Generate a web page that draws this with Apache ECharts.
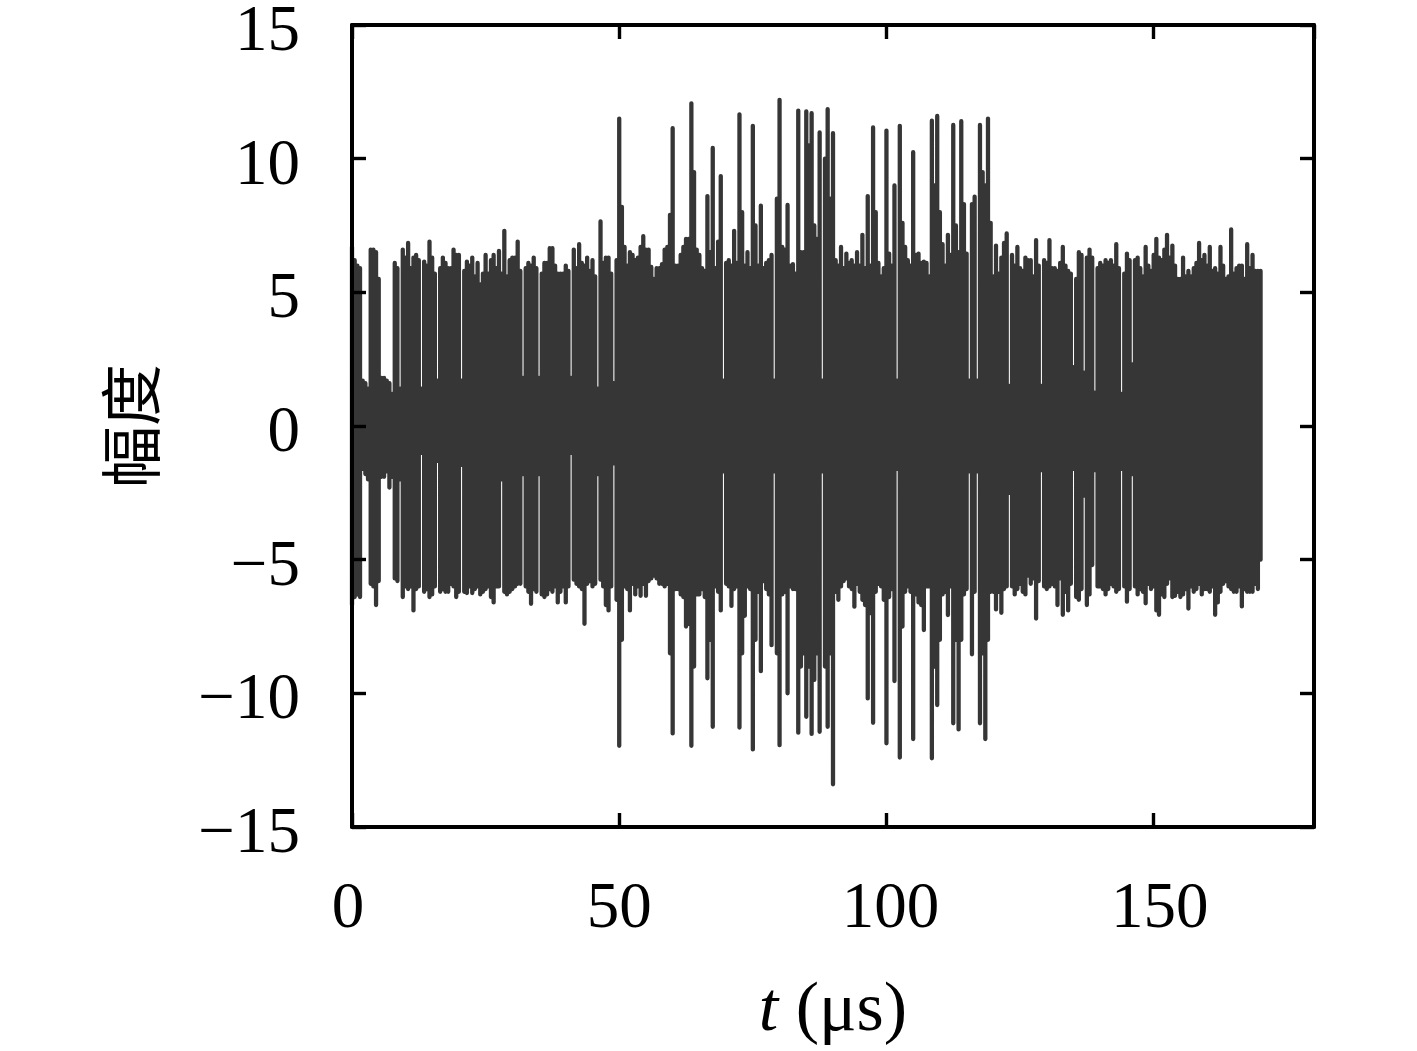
<!DOCTYPE html>
<html><head><meta charset="utf-8">
<style>html,body{margin:0;padding:0;background:#fff}#c{width:1417px;height:1051px}</style>
<script src="https://cdn.jsdelivr.net/npm/echarts@6/dist/echarts.min.js"></script>
</head><body><div id="c"></div>
<script>
// column spacing of the trace, in microseconds
const timeStep = 0.5;
// highest value reached by the trace in each column (rows of 10 us)
const upperValues = [
6.7,6.2,6.0,5.9,1.7,1.6,1.4,6.6,6.6,6.5,5.5,1.8,1.8,1.7,1.6,1.2,6.1,5.9,1.4,6.6,
6.3,6.85,5.9,6.3,6.4,6.2,1.4,6.15,6.0,6.9,6.3,5.7,1.7,5.9,6.3,6.1,5.9,5.9,6.6,6.4,
6.4,1.7,5.8,6.15,6.0,6.3,5.6,6.1,5.3,5.7,6.4,5.7,6.2,6.4,5.9,6.55,5.7,7.3,5.6,6.2,
6.3,6.3,6.9,5.8,1.8,5.9,6.1,6.0,6.3,5.9,1.8,5.7,6.1,6.1,6.65,6.65,6.0,5.7,5.7,5.7,
6.0,5.8,1.8,6.6,5.9,6.8,6.1,6.0,6.3,5.8,6.2,5.6,1.4,7.65,6.1,6.3,6.3,5.7,1.6,6.2,
11.5,8.2,6.7,6.0,6.5,6.4,6.2,6.3,6.7,7.1,6.6,6.6,5.95,5.5,5.9,5.9,6.05,6.6,6.7,7.9,
11.14,6.0,6.0,6.4,6.7,7.0,7.0,12.07,9.5,6.6,6.4,5.9,5.8,8.6,6.5,10.4,5.9,6.9,9.35,1.7,
6.1,6.2,6.0,7.3,6.1,11.66,8.0,6.0,6.5,5.9,11.23,7.5,6.0,8.24,5.9,6.1,6.2,6.4,1.7,8.5,
12.2,6.7,6.6,8.27,6.0,6.05,5.7,11.8,6.5,6.5,11.77,10.5,11.7,7.5,7.0,10.98,1.7,10.0,11.85,8.5,
10.95,6.2,6.0,6.7,5.9,6.45,6.1,6.2,6.0,6.5,6.0,7.15,5.9,8.6,6.0,11.17,8.0,6.1,5.6,5.9,
11.05,6.45,6.0,9.0,1.7,11.23,7.6,6.7,6.2,6.0,10.24,6.4,6.45,6.1,6.15,6.1,5.6,11.42,9.0,11.6,
8.0,6.8,6.0,7.15,6.4,11.26,7.5,6.5,11.4,8.3,6.45,1.7,8.3,8.58,1.7,11.26,9.5,9.0,11.5,7.6,
5.6,6.75,5.7,6.3,6.85,7.2,1.5,6.4,6.0,6.7,5.9,5.8,6.3,6.2,6.2,5.6,6.95,6.0,1.5,6.2,
6.1,6.95,5.9,5.9,5.8,6.1,6.7,6.0,5.8,5.7,2.2,5.5,6.5,6.4,2.0,6.3,6.6,6.3,1.25,5.9,
6.1,6.0,6.2,6.1,6.2,6.0,6.8,5.9,1.2,5.7,6.45,6.2,2.3,6.2,6.3,5.9,5.6,6.7,6.0,5.8,
6.4,7.0,6.3,6.2,6.6,7.15,6.3,6.75,6.0,5.5,5.5,6.3,5.6,5.8,5.6,5.9,6.1,6.85,6.2,6.4,
6.0,6.7,5.8,5.9,5.7,6.7,6.0,5.5,5.6,7.35,5.7,5.9,6.0,6.0,5.5,6.8,5.9,6.4,5.8,5.8,
5.8];
// lowest value reached by the trace in each column (rows of 10 us)
const lowerValues = [
-6.7,-6.4,-6.3,-6.4,-1.6,-1.8,-2.0,-5.9,-6.0,-6.7,-5.8,-1.9,-1.9,-1.7,-2.3,-1.9,-5.7,-5.8,-2.0,-6.4,
-6.0,-6.1,-6.0,-6.9,-6.1,-6.0,-1.0,-6.2,-6.1,-6.4,-6.3,-6.0,-1.3,-6.2,-6.1,-6.2,-6.2,-5.9,-6.0,-6.4,
-6.2,-1.45,-6.2,-6.25,-6.0,-6.25,-6.1,-6.0,-6.3,-6.2,-6.1,-6.0,-6.4,-6.6,-6.0,-6.0,-2.0,-6.2,-6.3,-6.2,
-6.1,-6.0,-5.9,-5.9,-1.8,-6.0,-6.2,-6.65,-6.1,-6.2,-1.8,-6.3,-6.4,-6.3,-6.1,-6.2,-6.0,-6.6,-6.2,-6.0,
-6.6,-6.0,-1.0,-5.75,-5.9,-6.0,-6.1,-7.4,-5.9,-5.8,-6.0,-5.9,-1.8,-5.75,-6.0,-6.7,-6.9,-6.0,-1.4,-6.5,
-11.96,-8.0,-6.0,-6.1,-6.9,-5.9,-6.3,-6.0,-6.35,-5.9,-6.35,-5.8,-5.7,-5.6,-5.7,-5.9,-5.9,-6.0,-5.9,-8.5,
-11.5,-6.1,-6.1,-6.3,-6.4,-7.5,-7.4,-11.96,-9.0,-6.3,-6.3,-6.1,-6.4,-9.44,-8.0,-11.25,-6.0,-6.2,-6.9,-1.7,
-5.9,-6.0,-6.73,-6.1,-6.0,-11.28,-8.5,-7.1,-6.0,-6.1,-12.1,-8.0,-6.2,-9.17,-5.8,-6.1,-6.3,-8.2,-1.7,-8.5,
-11.94,-6.3,-6.2,-10.0,-6.0,-6.1,-6.1,-11.47,-9.0,-8.5,-10.88,-9.0,-11.52,-9.5,-8.5,-11.44,-1.7,-9.0,-11.25,-8.5,
-13.4,-6.2,-6.5,-6.0,-5.8,-5.7,-6.0,-6.1,-6.76,-5.9,-6.2,-6.5,-6.7,-10.19,-7.0,-11.1,-6.2,-5.9,-6.0,-6.5,
-11.87,-6.4,-6.1,-9.54,-1.6,-12.4,-7.5,-6.2,-6.0,-6.2,-11.71,-6.3,-6.6,-6.7,-7.63,-6.0,-6.0,-12.43,-9.0,-10.44,
-8.0,-6.3,-6.2,-7.07,-6.0,-11.12,-8.0,-11.35,-8.0,-6.3,-6.1,-1.7,-8.54,-6.2,-1.7,-11.12,-8.5,-11.71,-8.0,-6.2,
-6.2,-6.86,-6.2,-6.99,-6.1,-6.0,-2.5,-6.0,-6.3,-6.1,-5.9,-6.2,-6.3,-5.6,-5.9,-5.7,-7.2,-5.8,-1.65,-6.0,
-6.1,-6.0,-5.9,-6.0,-6.7,-5.7,-7.06,-6.2,-6.9,-5.9,-1.6,-6.4,-6.5,-6.1,-2.6,-6.7,-6.3,-5.2,-1.65,-6.0,
-6.0,-6.1,-6.3,-6.1,-5.9,-6.0,-6.2,-6.1,-1.6,-6.0,-6.57,-6.1,-1.8,-6.0,-6.3,-6.1,-6.2,-6.63,-5.9,-6.1,
-6.0,-6.9,-7.06,-6.3,-6.4,-5.9,-5.7,-6.4,-6.35,-6.2,-6.4,-6.3,-6.1,-6.83,-6.0,-6.2,-6.1,-5.9,-6.3,-6.1,
-6.1,-6.2,-6.0,-7.06,-6.6,-6.2,-5.9,-5.8,-6.0,-6.1,-6.2,-6.2,-6.0,-6.75,-6.1,-6.2,-6.2,-6.2,-5.9,-6.1,
-5.0];
const xTicks = [0, 50, 100, 150];
const yTicks = [-15, -10, -5, 0, 5, 10, 15];
const xTitle = '{i|t} (μs)';
const yTitle = '幅度';

// each column: out from the centre line to its top, down to its bottom, back to the centre
const trace = [];
upperValues.forEach((u, i) => {
  const t = i * timeStep;
  trace.push([t, 0], [t, u], [t, lowerValues[i]], [t, 0]);
});

const FONT = '"Liberation Serif","Noto Sans CJK SC",serif';
const digit = { fontFamily: FONT, fontSize: 65, color: '#000' };
const axisCommon = {
  type: 'value', z: 6, splitLine: { show: false }, minorTick: { show: false },
  axisLine: { show: true, onZero: false, lineStyle: { color: '#000', width: 4 } },
  axisTick: { show: true, inside: true, length: 14, lineStyle: { color: '#000', width: 3.4 } }
};
const chart = echarts.init(document.getElementById('c'), null, { renderer: 'canvas' });
chart.setOption({
  animation: false,
  backgroundColor: '#fff',
  grid: { left: 352, right: 103, top: 25, bottom: 224, containLabel: false, outerBoundsMode: 'none' },
  xAxis: [
    Object.assign({}, axisCommon, {
      min: 0, max: 180, interval: 50, position: 'bottom',
      axisLabel: {
        show: true, margin: 50, fontFamily: FONT, fontSize: 65, color: '#000', showMaxLabel: false,
        formatter: v => {
          if (!xTicks.includes(v)) return '';
          if (v === 0) return '{a|' + v + '}';
          if (v === 100) return '{b|' + v + '}';
          if (v === 150) return '{c|' + v + '}';
          return String(v);
        },
        rich: {
          a: Object.assign({ padding: [0, 8, 0, 0] }, digit),
          b: Object.assign({ padding: [0, 0, 0, 8] }, digit),
          c: Object.assign({ padding: [0, 0, 0, 12] }, digit)
        }
      },
      name: xTitle, nameLocation: 'middle', nameGap: 150,
      nameTextStyle: {
        fontFamily: FONT, fontSize: 70, color: '#000',
        rich: { i: { fontFamily: FONT, fontSize: 70, fontStyle: 'italic', color: '#000' } }
      }
    }),
    Object.assign({}, axisCommon, {
      min: 0, max: 180, interval: 50, position: 'top', axisLabel: { show: false }
    })
  ],
  yAxis: [
    Object.assign({}, axisCommon, {
      min: -15, max: 15, interval: 5, position: 'left',
      axisLabel: {
        show: true, margin: 52, fontFamily: FONT, fontSize: 65, color: '#000',
        verticalAlign: 'top', lineHeight: 16,
        formatter: v => yTicks.includes(v) ? String(v).replace('-', '\u2212') : ''
      },
      name: yTitle, nameLocation: 'middle', nameRotate: 90, nameGap: 190,
      nameTextStyle: { fontFamily: '"Noto Sans CJK SC",serif', fontSize: 62, color: '#000' }
    }),
    Object.assign({}, axisCommon, {
      min: -15, max: 15, interval: 5, position: 'right', axisLabel: { show: false }
    })
  ],
  series: [{
    type: 'line', data: trace, showSymbol: false, symbol: 'none', clip: false,
    sampling: false, silent: true, z: 3,
    lineStyle: { color: '#363636', width: 4.3, cap: 'round', join: 'round' }
  }]
});
</script></body></html>
